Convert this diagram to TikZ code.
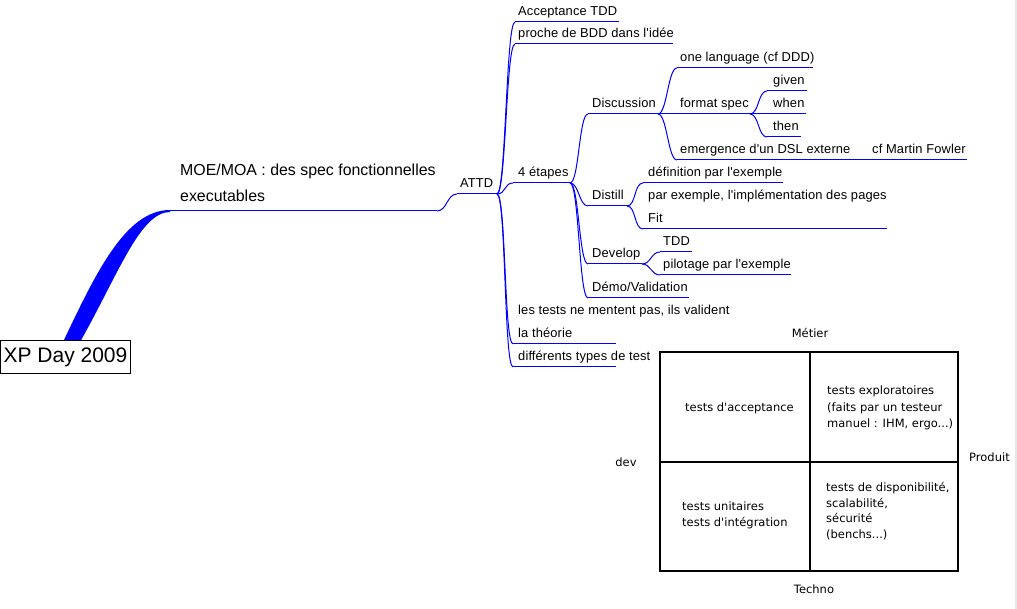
\documentclass[tikz,border=0pt]{standalone}
\usepackage{fontspec}
\newfontfamily\mmfont{Liberation Sans}[Ligatures={TeXOff,CommonOff}]
\newfontfamily\mmsmall{Liberation Sans}[Ligatures={TeXOff,CommonOff},LetterSpace=1]
\newfontfamily\tbfont{DejaVu Sans}[Ligatures={TeXOff,CommonOff}]
\definecolor{mmblue}{RGB}{0,0,255}
\definecolor{edgegray}{RGB}{230,230,230}
\tikzset{
  mmline/.style={draw=mmblue,line width=1pt},
  mmtext/.style={anchor=base west,inner sep=0pt,font=\mmsmall\fontsize{12.9}{15}\selectfont},
  bigtext/.style={anchor=base west,inner sep=0pt,font=\mmfont\fontsize{15.9}{20}\selectfont},
  tbtext/.style={anchor=base west,inner sep=0pt,font=\tbfont\fontsize{11.5}{14}\selectfont},
  tblabel/.style={anchor=base,inner sep=0pt,font=\tbfont\fontsize{11.5}{14}\selectfont},
  tbline/.style={draw=black,line width=2pt},
  rootbox/.style={draw=black,line width=1pt,fill=white,inner sep=0pt,minimum width=130pt,minimum height=33pt,font=\mmfont\fontsize{21}{25}\selectfont}
}
% item: [text offset]{name}{x start}{x end}{y of line}{text}
\newcommand\mmitem[6][3]{%
  \coordinate (#2-s) at (#3,#5);
  \coordinate (#2-e) at (#4,#5);
  \draw[mmline] (#2-s) -- (#2-e);
  \node[mmtext] (#2) at (#3+#1,#5-6) {#6};}
\newcommand\mmedge[2]{\draw[mmline] (#1-e) .. controls +(9,0) and +(-9,0) .. (#2-s);}
\begin{document}
\begin{tikzpicture}[x=1pt,y=-1pt]
\useasboundingbox (0,0) rectangle (1017,609);
\fill[white] (0,0) rectangle (1017,609);
\fill[edgegray] (1015,0) rectangle (1017,609);

% thick root connector
\fill[mmblue] (63,342) .. controls (95,275) and (125,210) .. (170,210)
  -- (170,212) .. controls (140,212) and (118,275) .. (80,342) -- cycle;
\node[rootbox] (root) at (65.5,357.5) {XP Day 2009};

% MOE/MOA
\coordinate (moe-s) at (170,211);
\coordinate (moe-e) at (437,211);
\draw[mmline] (moe-s) -- (moe-e);
\node[bigtext] (moe) at (180,176) {MOE/MOA : des spec fonctionnelles};
\node[bigtext] (moe2) at (180,202) {executables};

% ATTD
\mmitem{attd}{457}{497}{194}{ATTD}
\draw[mmline] (moe-e) .. controls +(10,0) and +(-10,0) .. (attd-s);

% children of ATTD
\mmitem{acc}{515}{619}{22}{Acceptance TDD}
\mmitem{bdd}{515}{673}{44}{proche de BDD dans l'idée}
\mmitem[5]{etapes}{513}{570}{183}{4 étapes}
\node[mmtext] (ment) at (518,315) {les tests ne mentent pas, ils valident};
\mmitem[5]{theo}{513}{616}{344}{la théorie}
\mmitem[5]{types}{513}{616}{367}{différents types de test}
\mmedge{attd}{acc}
\mmedge{attd}{bdd}
\mmedge{attd}{etapes}
\mmedge{attd}{theo}
\mmedge{attd}{types}

% children of 4 etapes
\mmitem[4]{disc}{588}{658}{114}{Discussion}
\mmitem[4]{dist}{588}{627}{206}{Distill}
\mmitem[4]{dev}{588}{642}{264}{Develop}
\mmitem[4]{demo}{588}{689}{298}{Démo/Validation}
\mmedge{etapes}{disc}
\mmedge{etapes}{dist}
\mmedge{etapes}{dev}
\mmedge{etapes}{demo}

% Discussion
\mmitem{lang}{677}{813}{68}{one language (cf DDD)}
\mmitem{fmt}{677}{750}{114}{format spec}
\mmitem{emer}{677}{864}{160}{emergence d'un DSL externe}
\mmitem{fowler}{869}{967}{160}{cf Martin Fowler}
\mmedge{disc}{lang}
\mmedge{disc}{fmt}
\mmedge{disc}{emer}
\draw[mmline] (emer-e) -- (fowler-s);

% format spec
\mmitem[6]{given}{767}{807}{91}{given}
\mmitem[6]{when}{767}{806}{114}{when}
\mmitem[6]{then}{767}{801}{137}{then}
\mmedge{fmt}{given}
\mmedge{fmt}{when}
\mmedge{fmt}{then}

% Distill
\mmitem[5]{def}{643}{783}{183}{définition par l'exemple}
\mmitem[5]{fit}{643}{887}{229}{Fit}
\node[mmtext] (fitb) at (648,200) {par exemple, l'implémentation des pages};
\mmedge{dist}{def}
\mmedge{dist}{fit}

% Develop
\mmitem{tdd}{660}{692}{252}{TDD}
\mmitem{pil}{660}{791}{275}{pilotage par l'exemple}
\mmedge{dev}{tdd}
\mmedge{dev}{pil}

% test matrix
\draw[tbline] (660,352) rectangle (958,571);
\draw[tbline] (810,352) -- (810,571);
\draw[tbline] (660,462) -- (958,462);
\node[tblabel] (metier) at (810,338) {Métier};
\node[tblabel] (techno) at (814,593) {Techno};
\node[tblabel] (devl) at (626,466.5) {dev};
\node[tblabel] (produit) at (989.5,461.5) {Produit};
\node[tbtext] (c11) at (685,411.7) {tests d'acceptance};
\node[tbtext] (c12a) at (827,395) {tests exploratoires};
\node[tbtext] (c12b) at (827,411.5) {(faits par un testeur};
\node[tbtext] (c12c) at (827,427.5) {manuel : IHM, ergo...)};
\node[tbtext] (c21a) at (682,510.7) {tests unitaires};
\node[tbtext] (c21b) at (682,526.5) {tests d'intégration};
\node[tbtext] (c22a) at (826,491.5) {tests de disponibilité,};
\node[tbtext] (c22b) at (826,507) {scalabilité,};
\node[tbtext] (c22c) at (826,522.7) {sécurité};
\node[tbtext] (c22d) at (826,538.3) {(benchs...)};
\end{tikzpicture}
\end{document}
